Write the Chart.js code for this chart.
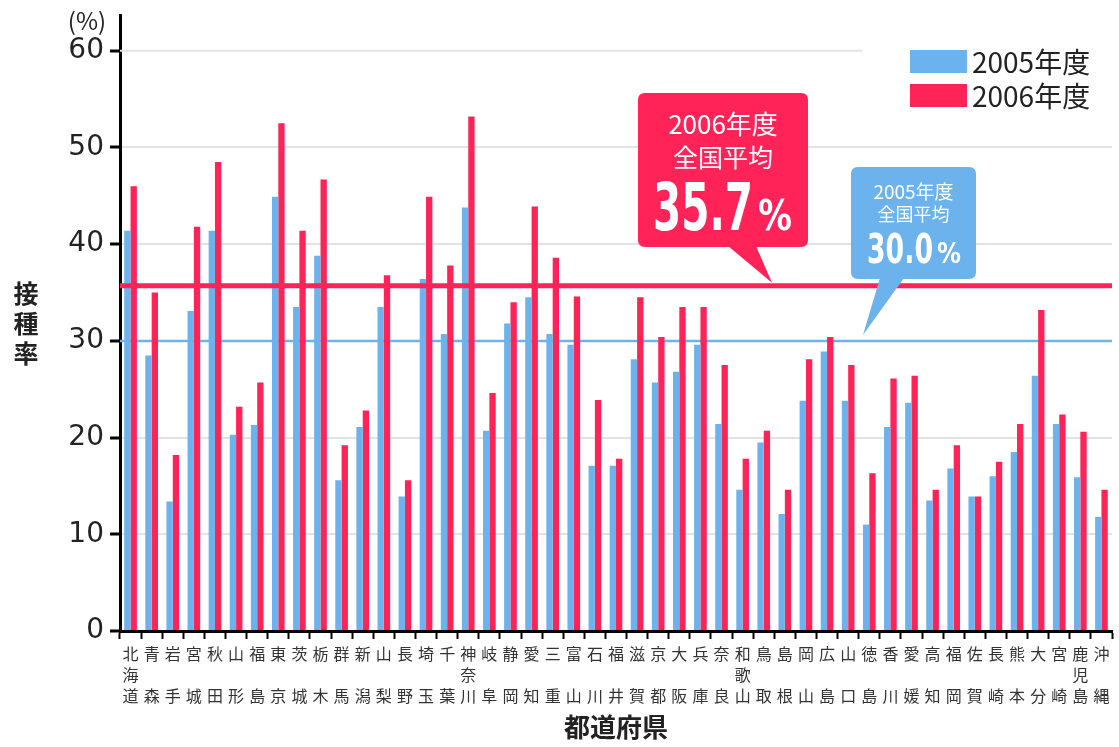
<!DOCTYPE html>
<html>
<head>
<meta charset="utf-8">
<script src="https://cdn.jsdelivr.net/npm/chart.js@4.4.1/dist/chart.umd.min.js"></script>
<style>
html, body { margin: 0; padding: 0; background: #fff; }
#wrap { width: 1119px; height: 747px; position: relative; }
</style>
</head>
<body>
<div id="wrap"><canvas id="chart" width="1119" height="747"></canvas></div>
<script>
// 都道府県と接種率 (%)
const prefNames = ['北海道','青森','岩手','宮城','秋田','山形','福島','東京','茨城','栃木','群馬','新潟','山梨','長野','埼玉','千葉','神奈川','岐阜','静岡','愛知','三重','富山','石川','福井','滋賀','京都','大阪','兵庫','奈良','和歌山','鳥取','島根','岡山','広島','山口','徳島','香川','愛媛','高知','福岡','佐賀','長崎','熊本','大分','宮崎','鹿児島','沖縄'];
const rate2005 = [41.4, 28.5, 13.4, 33.1, 41.4, 20.3, 21.3, 44.9, 33.5, 38.8, 15.6, 21.1, 33.5, 13.9, 36.4, 30.7, 43.8, 20.7, 31.8, 34.5, 30.7, 29.6, 17.1, 17.1, 28.1, 25.7, 26.8, 29.6, 21.4, 14.6, 19.5, 12.1, 23.8, 28.9, 23.8, 11.0, 21.1, 23.6, 13.5, 16.8, 13.9, 16.0, 18.5, 26.4, 21.4, 15.9, 11.8];
const rate2006 = [46.0, 35.0, 18.2, 41.8, 48.5, 23.2, 25.7, 52.5, 41.4, 46.7, 19.2, 22.8, 36.8, 15.6, 44.9, 37.8, 53.2, 24.6, 34.0, 43.9, 38.6, 34.6, 23.9, 17.8, 34.5, 30.4, 33.5, 33.5, 27.5, 17.8, 20.7, 14.6, 28.1, 30.4, 27.5, 16.3, 26.1, 26.4, 14.6, 19.2, 13.9, 17.5, 21.4, 33.2, 22.4, 20.6, 14.6];
const seriesNames = ['2005年度', '2006年度'];
const avg2005 = 30.0;
const avg2006 = 35.7;
const yTicks = [0, 10, 20, 30, 40, 50, 60];

const BLUE = '#6cb2ec';
const RED = '#ff2358';
const JP = '"Noto Sans CJK JP", "Noto Sans", sans-serif';

// 縦書きラベル (2文字は上下に分ける)
const labels = prefNames.map(n => n.length === 3 ? n.split('') : [n[0], '', n[1]]);

function roundRect(ctx, x, y, w, h, r) {
    ctx.beginPath();
    ctx.moveTo(x + r, y);
    ctx.lineTo(x + w - r, y);
    ctx.quadraticCurveTo(x + w, y, x + w, y + r);
    ctx.lineTo(x + w, y + h - r);
    ctx.quadraticCurveTo(x + w, y + h, x + w - r, y + h);
    ctx.lineTo(x + r, y + h);
    ctx.quadraticCurveTo(x, y + h, x, y + h - r);
    ctx.lineTo(x, y + r);
    ctx.quadraticCurveTo(x, y, x + r, y);
    ctx.closePath();
}

// 横に詰めた太字数字
function narrowText(ctx, text, x, y, font, width) {
    ctx.save();
    ctx.font = font;
    const w = ctx.measureText(text).width;
    ctx.translate(x, y);
    ctx.scale(width / w, 1);
    ctx.textAlign = 'left';
    ctx.fillText(text, 0, 0);
    ctx.restore();
}

function callout(ctx, box, tip, color, lines, big) {
    ctx.save();
    ctx.fillStyle = color;
    roundRect(ctx, box.x, box.y, box.w, box.h, 7);
    ctx.fill();
    ctx.beginPath();
    ctx.moveTo(box.baseL, box.y + box.h - 1);
    ctx.lineTo(tip.x, tip.y);
    ctx.lineTo(box.baseR, box.y + box.h - 1);
    ctx.closePath();
    ctx.fill();
    ctx.fillStyle = '#fff';
    ctx.textAlign = 'center';
    ctx.textBaseline = 'middle';
    lines.forEach(l => {
        ctx.font = l.size + 'px ' + JP;
        ctx.fillText(l.text, box.x + box.w / 2, l.y);
    });
    ctx.textBaseline = 'alphabetic';
    narrowText(ctx, big.num, big.x, big.base, 'bold ' + big.size + 'px "DejaVu Sans"', big.numW);
    narrowText(ctx, '%', big.pctX, big.base, 'bold ' + big.pctSize + 'px "DejaVu Sans"', big.pctW);
    ctx.restore();
}

const overlay = {
    id: 'overlay',
    beforeDatasetsDraw(chart) {
        const { ctx, chartArea, scales } = chart;
        const y60 = scales.y.getPixelForValue(60);
        ctx.save();
        ctx.strokeStyle = '#e2e2e2';
        ctx.lineWidth = 2;
        ctx.beginPath();
        ctx.moveTo(chartArea.left, y60);
        ctx.lineTo(862, y60);
        ctx.stroke();
        // 2005年度 全国平均
        const yb = scales.y.getPixelForValue(avg2005);
        ctx.strokeStyle = BLUE;
        ctx.lineWidth = 2.5;
        ctx.beginPath();
        ctx.moveTo(chartArea.left, yb);
        ctx.lineTo(chartArea.right, yb);
        ctx.stroke();
        ctx.restore();
    },
    afterDatasetsDraw(chart) {
        const { ctx, chartArea, scales } = chart;
        const yr = scales.y.getPixelForValue(avg2006);
        const yb = scales.y.getPixelForValue(avg2005);
        ctx.save();
        ctx.strokeStyle = RED;
        ctx.lineWidth = 5;
        ctx.beginPath();
        ctx.moveTo(chartArea.left, yr);
        ctx.lineTo(chartArea.right, yr);
        ctx.stroke();

        callout(ctx, { x: 638, y: 93, w: 170, h: 154, baseL: 728, baseR: 756 }, { x: 772, y: yr - 3 }, RED,
            [{ text: '2006年度', size: 26, y: 124 }, { text: '全国平均', size: 25, y: 157 }],
            { num: '35.7', x: 653, base: 230, size: 66, numW: 100, pctX: 758, pctSize: 42, pctW: 34 });
        callout(ctx, { x: 851, y: 167, w: 125, h: 112, baseL: 880, baseR: 904 }, { x: 863, y: yb - 6 }, BLUE,
            [{ text: '2005年度', size: 19, y: 192 }, { text: '全国平均', size: 18, y: 214 }],
            { num: '30.0', x: 867, base: 263, size: 41, numW: 66, pctX: 937, pctSize: 29, pctW: 24 });

        // 凡例
        const colors = [BLUE, RED];
        ctx.textAlign = 'left';
        ctx.textBaseline = 'middle';
        ctx.font = '28px ' + JP;
        seriesNames.forEach((s, i) => {
            ctx.fillStyle = colors[i];
            ctx.fillRect(910, 50 + i * 34, 57, 23);
            ctx.fillStyle = '#222';
            ctx.fillText(s, 972, 62 + i * 34);
        });

        // 軸の見出し
        ctx.fillStyle = '#222';
        ctx.textAlign = 'center';
        ctx.font = '24px ' + JP;
        ctx.fillText('(%)', 87, 21);
        ctx.font = 'bold 25px ' + JP;
        ['接', '種', '率'].forEach((c, i) => ctx.fillText(c, 26, 293 + i * 30));
        ctx.restore();
    }
};

new Chart(document.getElementById('chart'), {
    type: 'bar',
    data: {
        labels: labels,
        datasets: [
            { label: seriesNames[0], data: rate2005, backgroundColor: BLUE, borderWidth: 0, categoryPercentage: 0.6, barPercentage: 1.0 },
            { label: seriesNames[1], data: rate2006, backgroundColor: RED, borderWidth: 0, categoryPercentage: 0.6, barPercentage: 1.0 }
        ]
    },
    options: {
        responsive: false,
        animation: false,
        layout: { padding: { top: 15, right: 7, bottom: 2, left: 0 } },
        plugins: { legend: { display: false }, tooltip: { enabled: false } },
        scales: {
            x: {
                afterFit: s => { s.height = 114; },
                grid: { display: true, drawOnChartArea: false, tickColor: '#000', tickLength: 8, tickWidth: 2 },
                border: { display: true, color: '#000', width: 3 },
                ticks: { autoSkip: false, maxRotation: 0, minRotation: 0, color: '#333', padding: 5,
                    font: { family: JP, size: 16, lineHeight: 1.3 } },
                title: { display: true, text: '都道府県', color: '#222', padding: { top: 0, bottom: 2 },
                    font: { family: JP, size: 26, weight: 'bold' } }
            },
            y: {
                min: 0,
                max: 63.7,
                afterFit: s => { s.width = 120; s.paddingTop = 0; s.paddingBottom = 0; },
                afterBuildTicks: s => { s.ticks = yTicks.map(v => ({ value: v })); },
                grid: {
                    color: c => (c.tick && (c.tick.value === 60 || c.tick.value === 0)) ? 'rgba(0,0,0,0)' : '#e2e2e2',
                    lineWidth: 2, tickColor: '#000', tickLength: 10, tickWidth: 3
                },
                border: { display: true, color: '#000', width: 3 },
                ticks: { color: '#222', padding: 6, font: { family: '"DejaVu Sans"', size: 28 } }
            }
        }
    },
    plugins: [overlay]
});
</script>
</body>
</html>
